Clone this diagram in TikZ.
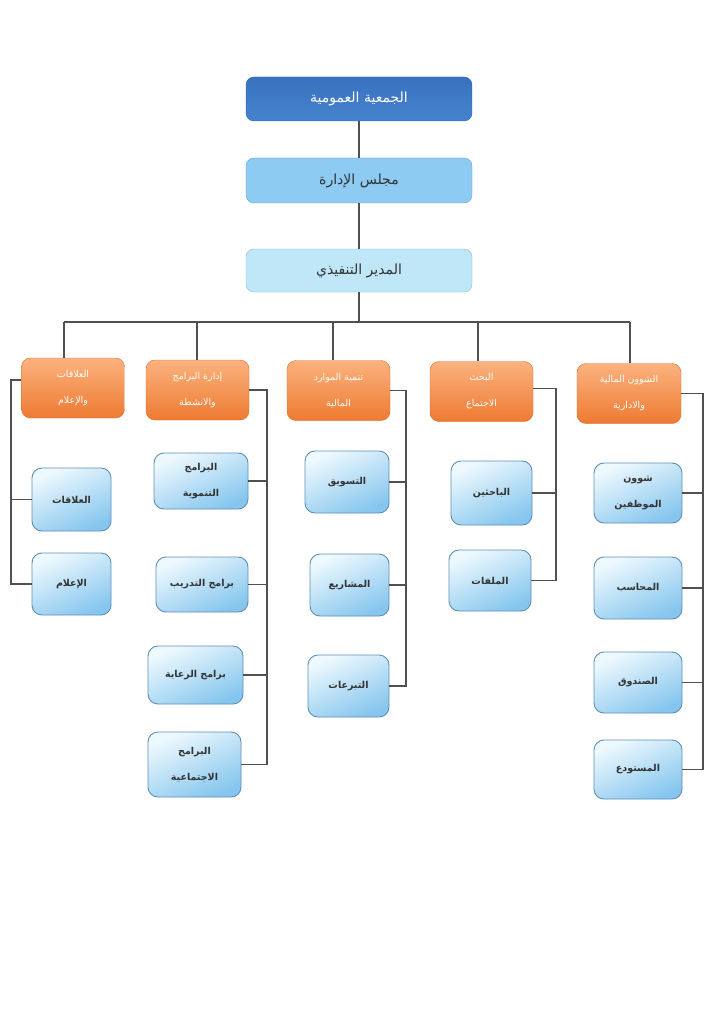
\documentclass[tikz,border=0pt]{standalone}
\usepackage{fontspec}
\newfontfamily\arabicfont[Script=Arabic]{DejaVu Sans}
\TeXXeTstate=1
\newcommand{\ar}[1]{{\arabicfont\beginR #1\endR}}
\definecolor{lineC}{HTML}{505050}
\definecolor{topA}{HTML}{3872BE}
\definecolor{topB}{HTML}{4683CE}
\definecolor{topD}{HTML}{2C62A8}
\definecolor{bdF}{HTML}{8ECBF3}
\definecolor{bdD}{HTML}{5EA3DC}
\definecolor{edF}{HTML}{BFE7F8}
\definecolor{edD}{HTML}{7FBDE0}
\definecolor{orA}{HTML}{FBB27E}
\definecolor{orB}{HTML}{EE7A32}
\definecolor{chA}{HTML}{EEF9FE}
\definecolor{chB}{HTML}{86C6EE}
\definecolor{chD}{HTML}{5F8FB8}
\tikzset{
  lvl/.style={rounded corners=8pt, minimum width=226pt, align=center, font=\fontsize{14}{17}\selectfont},
  lvltop/.style={lvl, draw=topD, top color=topA, bottom color=topB, text=white, minimum height=44pt},
  lvlbd/.style={lvl, draw=bdD, fill=bdF, text=black!80, minimum height=45pt},
  lvled/.style={lvl, draw=edD, fill=edF, text=black!80, minimum height=43pt},
  orbox/.style={rounded corners=9pt, draw=orB!90!black, top color=orA, bottom color=orB, text=white,
    minimum width=103pt, minimum height=60pt, align=center, font=\fontsize{9.5}{26}\selectfont},
  chbox/.style={rounded corners=10pt, draw=chD, line width=0.9pt, shading=axis, top color=chA, bottom color=chB, shading angle=25,
    text=black!80, align=center, font=\fontsize{9.5}{26}\selectfont\bfseries},
  conn/.style={draw=lineC, line width=1.6pt}
}
\begin{document}
\begin{tikzpicture}[x=1pt,y=-1pt]
\useasboundingbox[fill=white] (0,0) rectangle (725,1024);
% top levels
\node[lvltop] (ga) at (359,99) {\ar{الجمعية العمومية}};
\node[lvlbd] (bd) at (359,180.5) {\ar{مجلس الإدارة}};
\node[lvled] (ed) at (359,270.5) {\ar{المدير التنفيذي}};
% orange departments
\node[orbox] (o1) at (73,388) {\ar{العلاقات}\\\ar{والإعلام}};
\node[orbox] (o2) at (197.5,390) {\ar{إدارة البرامج}\\\ar{والانشطة}};
\node[orbox] (o3) at (338.5,390.5) {\ar{تنمية الموارد}\\\ar{المالية}};
\node[orbox] (o4) at (481.5,391.5) {\ar{البحث}\\\ar{الاجتماع}};
\node[orbox, minimum width=104pt] (o5) at (629,393.5) {\ar{الشوون المالية}\\\ar{والادارية}};
% children
\node[chbox, minimum width=79pt, minimum height=63pt] (c11) at (71.5,499.5) {\ar{العلاقات}};
\node[chbox, minimum width=79pt, minimum height=62pt] (c12) at (71.5,584) {\ar{الإعلام}};
\node[chbox, minimum width=94pt, minimum height=56pt] (c21) at (201,481) {\ar{البرامج}\\\ar{التنموية}};
\node[chbox, minimum width=92pt, minimum height=55pt] (c22) at (202,584.5) {\ar{برامج التدريب}};
\node[chbox, minimum width=95pt, minimum height=58pt] (c23) at (195.5,675) {\ar{برامج الرعاية}};
\node[chbox, minimum width=93pt, minimum height=65pt] (c24) at (194.5,764.5) {\ar{البرامج}\\\ar{الاجتماعية}};
\node[chbox, minimum width=84pt, minimum height=62pt] (c31) at (347,482) {\ar{التسويق}};
\node[chbox, minimum width=79pt, minimum height=62pt] (c32) at (349.5,585) {\ar{المشاريع}};
\node[chbox, minimum width=81pt, minimum height=62pt] (c33) at (348.5,686) {\ar{التبرعات}};
\node[chbox, minimum width=81pt, minimum height=64pt] (c41) at (491.5,493) {\ar{الباحثين}};
\node[chbox, minimum width=82pt, minimum height=61pt] (c42) at (490,580.5) {\ar{الملفات}};
\node[chbox, minimum width=88pt, minimum height=60pt] (c51) at (638,493) {\ar{شوون}\\\ar{الموظفين}};
\node[chbox, minimum width=88pt, minimum height=62pt] (c52) at (638,588) {\ar{المحاسب}};
\node[chbox, minimum width=88pt, minimum height=61pt] (c53) at (638,682.5) {\ar{الصندوق}};
\node[chbox, minimum width=88pt, minimum height=59pt] (c54) at (638,769.5) {\ar{المستودع}};
% helper coordinates
\coordinate (bus) at (359,322);
\coordinate (d1) at (64,322);
\coordinate (d2) at (197,322);
\coordinate (d3) at (333,322);
\coordinate (d4) at (478,322);
\coordinate (d5) at (630,322);
\coordinate (s1) at (11,0);
\coordinate (s2) at (267,0);
\coordinate (s3) at (406,0);
\coordinate (s4) at (556,0);
\coordinate (s5) at (703,0);
% vertical chain
\draw[conn] (ga) -- (bd);
\draw[conn] (bd) -- (ed);
\draw[conn] (ed) -- (bus);
\draw[conn] (d1) -- (d5);
\draw[conn] (d1) -- (d1 |- o1.north);
\draw[conn] (d2) -- (d2 |- o2.north);
\draw[conn] (d3) -- (d3 |- o3.north);
\draw[conn] (d4) -- (d4 |- o4.north);
\draw[conn] (d5) -- (d5 |- o5.north);
% spines
\draw[conn] ([yshift=8pt]o1.west) -| (s1 |- c12.west) -- (c12.west);
\draw[conn] (c11.west) -- (c11.west -| s1);
\draw[conn] (o2.east) -| (s2 |- c24.east) -- (c24.east);
\draw[conn] (c21.east) -- (c21.east -| s2);
\draw[conn] (c22.east) -- (c22.east -| s2);
\draw[conn] (c23.east) -- (c23.east -| s2);
\draw[conn] (o3.east) -| (s3 |- c33.east) -- (c33.east);
\draw[conn] (c31.east) -- (c31.east -| s3);
\draw[conn] (c32.east) -- (c32.east -| s3);
\draw[conn] ([yshift=3pt]o4.east) -| (s4 |- c42.east) -- (c42.east);
\draw[conn] (c41.east) -- (c41.east -| s4);
\draw[conn] (o5.east) -| (s5 |- c54.east) -- (c54.east);
\draw[conn] (c51.east) -- (c51.east -| s5);
\draw[conn] (c52.east) -- (c52.east -| s5);
\draw[conn] (c53.east) -- (c53.east -| s5);
\end{tikzpicture}
\end{document}
